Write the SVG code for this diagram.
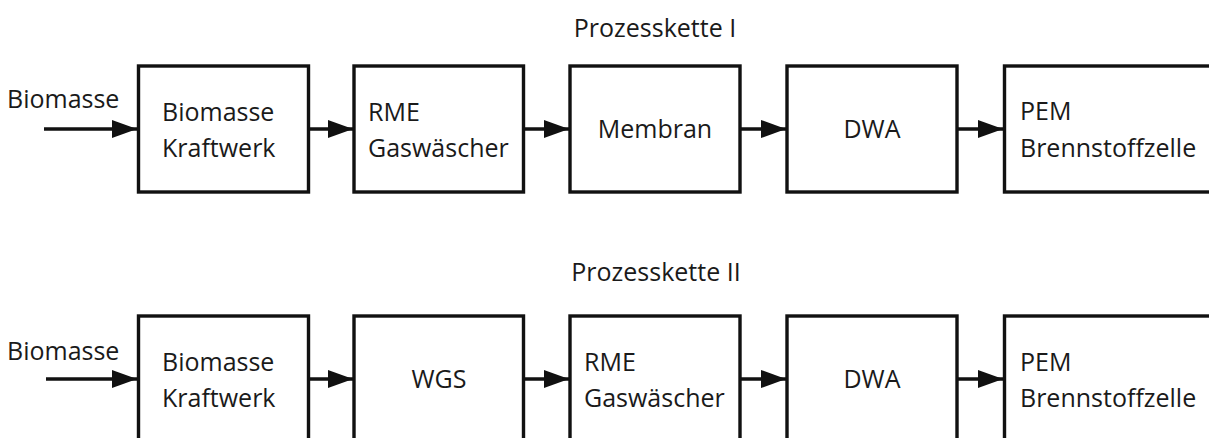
<svg xmlns="http://www.w3.org/2000/svg" width="1209" height="438" viewBox="0 0 1209 438">
<style>
  .box { fill: #ffffff; stroke: #111111; stroke-width: 3.4; }
  .lbl { font-family: "Open Sans", "DejaVu Sans", sans-serif; font-size: 25px; fill: #1a1a1a; }
  .mid { text-anchor: middle; }
  .conn { stroke: #111111; stroke-width: 3.6; fill: none; marker-end: url(#arrow); }
</style>
<defs>
  <marker id="arrow" markerUnits="userSpaceOnUse" markerWidth="26" markerHeight="20" refX="25" refY="9" orient="auto">
    <path d="M0,0 L25,9 L0,18 z" fill="#111111"/>
  </marker>
</defs>
<rect width="1209" height="438" fill="#ffffff"/>

<text class="lbl mid" x="655" y="37">Prozesskette I</text>
<text class="lbl mid" x="656" y="281">Prozesskette II</text>

<g id="connectors">
  <line class="conn" x1="44" y1="129" x2="137" y2="129"/>
  <line class="conn" x1="309" y1="129" x2="353" y2="129"/>
  <line class="conn" x1="523" y1="129" x2="569" y2="129"/>
  <line class="conn" x1="740" y1="129" x2="786" y2="129"/>
  <line class="conn" x1="957" y1="129" x2="1003" y2="129"/>

  <line class="conn" x1="46" y1="379" x2="137" y2="379"/>
  <line class="conn" x1="309" y1="379" x2="353" y2="379"/>
  <line class="conn" x1="523" y1="379" x2="569" y2="379"/>
  <line class="conn" x1="740" y1="379" x2="786" y2="379"/>
  <line class="conn" x1="957" y1="379" x2="1003" y2="379"/>
</g>

<g id="input1"><text class="lbl" x="7" y="108">Biomasse</text></g>
<g id="input2"><text class="lbl" x="7" y="360">Biomasse</text></g>

<g id="k1_kraftwerk">
  <rect class="box" x="138.5" y="66" width="170" height="126"/>
  <text class="lbl" x="162" y="121">Biomasse</text>
  <text class="lbl" x="162" y="157">Kraftwerk</text>
</g>
<g id="k1_rme">
  <rect class="box" x="354" y="66" width="169.5" height="126"/>
  <text class="lbl" x="368" y="121">RME</text>
  <text class="lbl" x="368" y="157">Gaswäscher</text>
</g>
<g id="k1_membran">
  <rect class="box" x="570" y="66" width="170" height="126"/>
  <text class="lbl mid" x="655" y="138">Membran</text>
</g>
<g id="k1_dwa">
  <rect class="box" x="787" y="66" width="170" height="126"/>
  <text class="lbl mid" x="872" y="138">DWA</text>
</g>
<g id="k1_pem">
  <rect class="box" x="1004.5" y="66" width="210" height="126"/>
  <text class="lbl" x="1020" y="120">PEM</text>
  <text class="lbl" x="1020" y="157">Brennstoffzelle</text>
</g>

<g id="k2_kraftwerk">
  <rect class="box" x="138.5" y="316" width="170" height="130"/>
  <text class="lbl" x="162" y="371">Biomasse</text>
  <text class="lbl" x="162" y="407">Kraftwerk</text>
</g>
<g id="k2_wgs">
  <rect class="box" x="354" y="316" width="169.5" height="130"/>
  <text class="lbl mid" x="439" y="388">WGS</text>
</g>
<g id="k2_rme">
  <rect class="box" x="570" y="316" width="170" height="130"/>
  <text class="lbl" x="584" y="371">RME</text>
  <text class="lbl" x="584" y="407">Gaswäscher</text>
</g>
<g id="k2_dwa">
  <rect class="box" x="787" y="316" width="170" height="130"/>
  <text class="lbl mid" x="872" y="388">DWA</text>
</g>
<g id="k2_pem">
  <rect class="box" x="1004.5" y="316" width="210" height="130"/>
  <text class="lbl" x="1020" y="371">PEM</text>
  <text class="lbl" x="1020" y="407">Brennstoffzelle</text>
</g>
</svg>
